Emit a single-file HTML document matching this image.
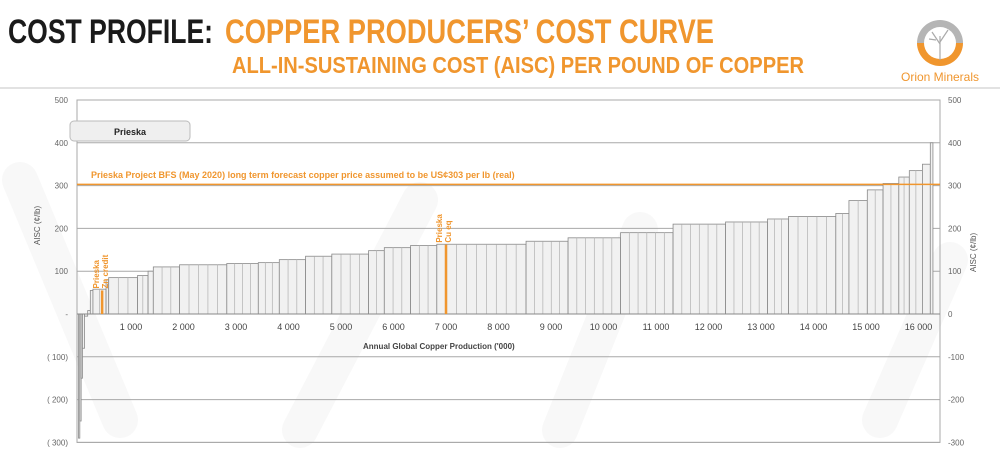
<!DOCTYPE html>
<html><head><meta charset="utf-8"><style>
body{margin:0;background:#fff;}
svg{display:block;font-family:"Liberation Sans",sans-serif;}
</style></head><body>
<svg id="chart" width="1000" height="456" viewBox="0 0 1000 456" xmlns="http://www.w3.org/2000/svg">
<g fill="none" stroke="#f8f8f8" stroke-width="36" stroke-linecap="round">
<path d="M20 180 L120 420"/><path d="M300 430 L420 200"/><path d="M560 430 L640 230"/><path d="M880 420 L950 260"/>
</g>
<text x="8" y="43" font-size="34" font-weight="bold" fill="#1a1a1a" textLength="205" lengthAdjust="spacingAndGlyphs">COST PROFILE:</text>
<text x="225" y="43" font-size="34" font-weight="bold" fill="#f0962e" textLength="489" lengthAdjust="spacingAndGlyphs">COPPER PRODUCERS’ COST CURVE</text>
<text x="232" y="73" font-size="23" font-weight="bold" fill="#f0962e" textLength="572" lengthAdjust="spacingAndGlyphs">ALL-IN-SUSTAINING COST (AISC) PER POUND OF COPPER</text>
<line x1="0" y1="88" x2="1000" y2="88" stroke="#e2e2e2" stroke-width="2"/>
<g>
<path d="M917 43 A23 23 0 0 1 963 43 L956 43 A16 16 0 0 0 924 43 Z" fill="#b5b5b5"/>
<path d="M917 43 A23 23 0 0 0 963 43 L956 43 A16 16 0 0 1 924 43 Z" fill="#f0962e"/>
<path d="M940 60 L940 36 M940 44 L932 32 M940 42 L948 30 M936 40 L929 39" stroke="#aaa" stroke-width="1.2" fill="none"/>
<text x="940" y="81" text-anchor="middle" font-size="12" fill="#f0962e">Orion Minerals</text>
</g>
<g id="grid"></g>
<g id="bars"></g>
<g id="axes"></g>
<rect x="70" y="121" width="120" height="20" rx="4" fill="#efefef" stroke="#bbb"/>
<text x="130" y="135" text-anchor="middle" font-size="9" font-weight="bold" fill="#222">Prieska</text>
<text x="91" y="178" font-size="9" font-weight="bold" fill="#f0962e">Prieska Project BFS (May 2020) long term forecast copper price assumed to be US¢303 per lb (real)</text>
<text x="363" y="349" font-size="8" font-weight="bold" fill="#444">Annual Global Copper Production ('000)</text>
<text transform="translate(40 245) rotate(-90)" font-size="8" fill="#555">AISC (¢/lb)</text>
<text transform="translate(976 272) rotate(-90)" font-size="8" fill="#555">AISC (¢/lb)</text>
</svg>
<script>
const widths = [25,25,25,40,60,50,50,250,50,550,200,100,500,900,600,400,500,500,700,300,500,500,1700,800,1000,1000,1000,800,400,900,250,350,300,300,200,250,150,50];
const costs  = [-290,-250,-150,-80,-5,8,55,58,80,85,90,100,110,115,118,120,127,135,140,148,155,160,163,170,178,190,210,215,222,228,235,265,290,305,320,335,350,400];
const yTicks = [500,400,300,200,100,0,-100,-200,-300];
const yLabelsL = ["500","400","300","200","100","-","( 100)","( 200)","( 300)"];
const yLabelsR = ["500","400","300","200","100","0","-100","-200","-300"];
const xTicks = [1000,2000,3000,4000,5000,6000,7000,8000,9000,10000,11000,12000,13000,14000,15000,16000];
const priceLine = 303;
const znCredit = {x:450, v:55};
const cuEq = {x:7000, v:162};
const NS="http://www.w3.org/2000/svg";
const X = v => 78.5 + v*0.0525;
const Y = v => 314 - v*0.428;
function mk(tag, parent, attrs){const e=document.createElementNS(NS,tag);for(const k in attrs)e.setAttribute(k,attrs[k]);parent.appendChild(e);return e;}
const grid=document.getElementById('grid'), bars=document.getElementById('bars'), axes=document.getElementById('axes');
yTicks.forEach((t,i)=>{
  if(t!==0){const l=mk('line',grid,{x1:77,x2:940,y1:Y(t),y2:Y(t),stroke:'#a8a8a8','stroke-width':1});
  
  }
  const a=mk('text',axes,{x:68,y:Y(t)+3,'text-anchor':'end','font-size':8,fill:'#666'});a.textContent=yLabelsL[i];
  
  
  const b=mk('text',axes,{x:948,y:Y(t)+3,'font-size':8,fill:'#666'});b.textContent=yLabelsR[i];
  
  
});
const frame=mk('rect',grid,{x:77,y:Y(500),width:863,height:Y(-300)-Y(500),fill:'none',stroke:'#a8a8a8'});


let cum=0;
widths.forEach((w,i)=>{
  const v=costs[i];const x0=X(cum),x1=X(cum+w);
  const r=mk('rect',bars,{x:x0,y:Math.min(Y(v),Y(0)),width:Math.max(x1-x0,0.8),height:Math.abs(Y(v)-Y(0)),fill:'#f1f1f1',stroke:'#8a8a8a','stroke-width':0.8});
  
  
  const n=Math.floor(w/200);
  for(let k=1;k<=n;k++){const lx=X(cum+w*k/(n+1));
    const d=mk('line',bars,{x1:lx,x2:lx,y1:Y(v),y2:Y(0),stroke:'#b0b0b0','stroke-width':0.7});
    
    }
  cum+=w;
});
const zero=mk('line',axes,{x1:77,x2:940,y1:Y(0),y2:Y(0),stroke:'#888','stroke-width':1});


xTicks.forEach(t=>{const e=mk('text',axes,{x:X(t),y:330,'text-anchor':'middle','font-size':9,fill:'#444'});e.textContent=(t/1000)+' 000';
  
  });
const pl=mk('line',axes,{x1:77,x2:940,y1:Y(priceLine),y2:Y(priceLine),stroke:'#f0962e','stroke-width':1.5});


const zn=mk('line',axes,{x1:X(znCredit.x),x2:X(znCredit.x),y1:Y(0),y2:Y(znCredit.v),stroke:'#f0962e','stroke-width':2.5});


const cu=mk('line',axes,{x1:X(cuEq.x),x2:X(cuEq.x),y1:Y(0),y2:Y(cuEq.v),stroke:'#f0962e','stroke-width':2.5});


function vlabel(x,y,lines,name){const t=mk('text',axes,{transform:`translate(${x} ${y}) rotate(-90)`,'font-size':8,'font-weight':'bold',fill:'#f0962e'});
  
  
  lines.forEach((s,i)=>{const ts=mk('tspan',t,{x:0,dy:i?9:0});ts.textContent=s;});}
vlabel(X(znCredit.x)-3,Y(znCredit.v)-2,['Prieska','Zn credit'],'zn-credit-label');
vlabel(X(cuEq.x)-4,Y(cuEq.v)-2,['Prieska','Cu eq'],'cu-eq-label');
</script>
</body></html>
